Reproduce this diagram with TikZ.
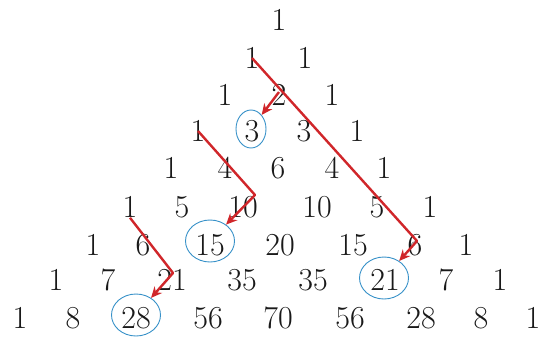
\documentclass[tikz,border=0pt]{standalone}
\usepackage{fontspec}
\usetikzlibrary{shapes.geometric,arrows.meta}
\definecolor{numcol}{RGB}{25,25,25}
\definecolor{redcol}{RGB}{208,38,42}
\definecolor{bluecol}{RGB}{55,145,200}
\tikzset{
  num/.style={font=\fontsize{32}{38}\selectfont, text=numcol, inner sep=0pt},
  circ/.style={draw=bluecol, line width=0.9pt, ellipse, inner sep=0pt},
  small/.style={circ, minimum width=30pt, minimum height=38pt},
  wide/.style={circ, minimum width=49pt, minimum height=42pt},
  redarrow/.style={draw=redcol, line width=2.4pt, line join=round,
    -{Stealth[length=11pt,width=10pt]}}
}
\begin{document}
\begin{tikzpicture}[x=1pt,y=-1pt]
\useasboundingbox (0,0) rectangle (543,338);
% row 0
\node[num] (n00) at (279,20) {1};
% row 1
\node[num] (n10) at (252,58) {1};
\node[num] (n11) at (305,58) {1};
% row 2
\node[num] (n20) at (225,95) {1};
\node[num] (n21) at (279,95) {2};
\node[num] (n22) at (332,95) {1};
% row 3
\node[num] (n30) at (198,131) {1};
\node[num] (n31) at (252,131) {3};
\node[num] (n32) at (304,131) {3};
\node[num] (n33) at (357,131) {1};
% row 4
\node[num] (n40) at (171,168) {1};
\node[num] (n41) at (225,168) {4};
\node[num] (n42) at (278,168) {6};
\node[num] (n43) at (332,168) {4};
\node[num] (n44) at (384,168) {1};
% row 5
\node[num] (n50) at (130,207) {1};
\node[num] (n51) at (182,207) {5};
\node[num] (n52) at (243,207) {10};
\node[num] (n53) at (317,207) {10};
\node[num] (n54) at (377,207) {5};
\node[num] (n55) at (430,207) {1};
% row 6
\node[num] (n60) at (93,245) {1};
\node[num] (n61) at (143,245) {6};
\node[num] (n62) at (210,245) {15};
\node[num] (n63) at (280,245) {20};
\node[num] (n64) at (353,245) {15};
\node[num] (n65) at (415,245) {6};
\node[num] (n66) at (466,245) {1};
% row 7
\node[num] (n70) at (56,280) {1};
\node[num] (n71) at (108,280) {7};
\node[num] (n72) at (172,280) {21};
\node[num] (n73) at (242,280) {35};
\node[num] (n74) at (313,280) {35};
\node[num] (n75) at (385,280) {21};
\node[num] (n76) at (446,280) {7};
\node[num] (n77) at (500,280) {1};
% row 8
\node[num] (n80) at (20,318) {1};
\node[num] (n81) at (73,318) {8};
\node[num] (n82) at (136,318) {28};
\node[num] (n83) at (208,318) {56};
\node[num] (n84) at (278,318) {70};
\node[num] (n85) at (350,318) {56};
\node[num] (n86) at (421,318) {28};
\node[num] (n87) at (481,318) {8};
\node[num] (n88) at (533,318) {1};
% circles
\node[small] (c31) at (251,129) {};
\node[wide] (c62) at (210,241) {};
\node[wide] (c75) at (384,278) {};
\node[wide] (c82) at (136,315) {};
% turn points
\coordinate (tA) at (417,241);
\coordinate (tB) at (255,195);
\coordinate (tC) at (173,273);
% hockey-stick arrows
\draw[redarrow] (n10.center) -- (tA) -- (c75);
\draw[redarrow] ([yshift=3pt]n21.center) -- (c31);
\draw[redarrow] (n30.center) -- (tB) -- (c62);
\draw[redarrow] (n50.south) -- (tC) -- (c82);
\end{tikzpicture}
\end{document}
